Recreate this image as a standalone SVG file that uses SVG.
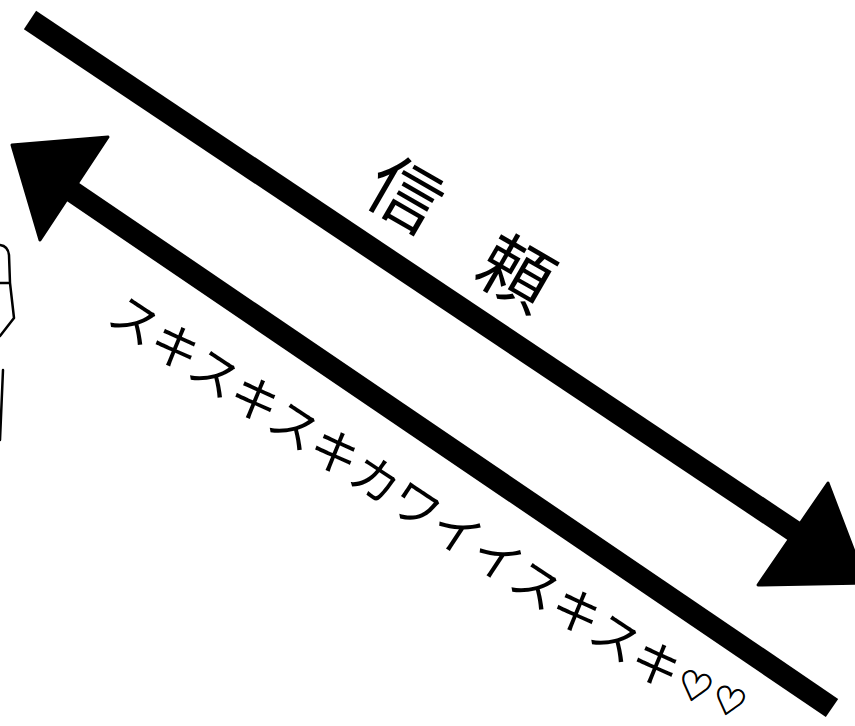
<svg xmlns="http://www.w3.org/2000/svg" width="855" height="726" viewBox="0 0 855 726">
<style>
.shaft{stroke:#000;stroke-width:22;fill:none;stroke-linecap:butt;stroke-linejoin:round}
.head{fill:#000;stroke:#000;stroke-width:3;stroke-linejoin:round}
.lbl{font-family:"Noto Sans CJK JP","Noto Sans",sans-serif;fill:#000}
.heart{font-family:"DejaVu Sans",sans-serif;fill:#000;stroke:#000;stroke-width:1;text-anchor:middle}
.sketch{fill:none;stroke:#000;stroke-width:2.5;stroke-linecap:round;stroke-linejoin:round}
</style>
<rect width="855" height="726" fill="#fff"/>
<g id="connectors">
  <g id="arrow-trust">
    <line class="shaft" x1="30" y1="20" x2="800" y2="535"/>
    <polygon class="head" points="828,483 866,583 758,585"/>
  </g>
  <g id="arrow-love">
    <line class="shaft" x1="832" y1="708" x2="70" y2="190"/>
    <polygon class="head" points="12,145 108,137 40,240"/>
  </g>
</g>
<g id="label-trust">
  <text class="lbl" transform="translate(405,195) rotate(30)" x="-36" y="26" font-size="72">信</text>
  <text class="lbl" transform="translate(516,273) rotate(30)" x="-36" y="26" font-size="72">頼</text>
</g>
<g id="label-love">
  <text class="lbl" transform="translate(135,320) rotate(33.4)" x="-24" y="18" font-size="48.5">スキスキスキカワイイスキスキ</text>
  <text class="heart" transform="translate(695,687) rotate(15)" x="0" y="14" font-size="40">♡</text>
  <text class="heart" transform="translate(729,702) rotate(15)" x="0" y="13" font-size="38">♡</text>
</g>
<g id="edge-sketch">
  <path class="sketch" d="M0,245 Q8,246 9,255 L10,283 M0,283 L10,283 L14,318 L0,336 M3,370 L0,440"/>
</g>
</svg>
